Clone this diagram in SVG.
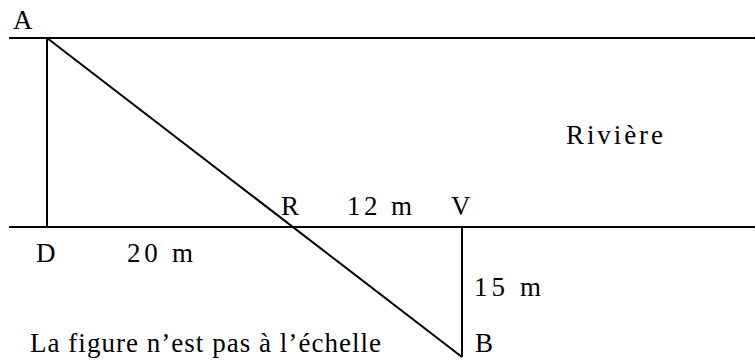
<svg xmlns="http://www.w3.org/2000/svg" width="755" height="360" viewBox="0 0 755 360">
<style>
line{stroke:#000;stroke-width:2;stroke-linecap:butt}
</style>
<rect width="755" height="360" fill="#fff"/>
<g id="connectors">
<line x1="9" y1="38" x2="755" y2="38"/>
<line x1="9" y1="227" x2="755" y2="227"/>
<line x1="47" y1="38" x2="47" y2="227"/>
<line x1="47" y1="38" x2="462" y2="357"/>
<line x1="462" y1="227" x2="462" y2="357"/>
</g>
<g font-family="'Liberation Serif', 'DejaVu Serif', serif" font-size="27" fill="#000">
<g id="A"><text x="13" y="29">A</text></g>
<g id="D"><text x="36" y="262">D</text></g>
<g id="R"><text x="281" y="215">R</text></g>
<g id="V"><text x="451" y="215">V</text></g>
<g id="B"><text x="475" y="352">B</text></g>
<g id="labels">
<text x="127" y="262" textLength="66" lengthAdjust="spacing">20 m</text>
<text x="347" y="215" textLength="65" lengthAdjust="spacing">12 m</text>
<text x="474" y="296" textLength="67" lengthAdjust="spacing">15 m</text>
<text x="566" y="144" textLength="97" lengthAdjust="spacing">Rivière</text>
<text x="30" y="352" textLength="351" lengthAdjust="spacing">La figure n’est pas à l’échelle</text>
</g>
</g>
</svg>
